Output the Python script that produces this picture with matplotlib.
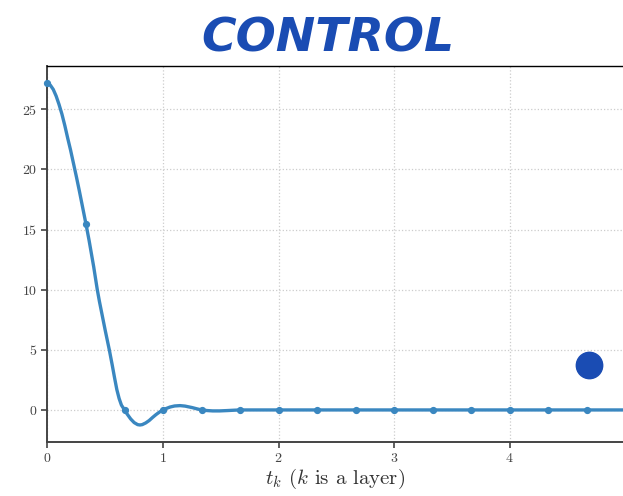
import numpy as np
import matplotlib
matplotlib.use("Agg")
import matplotlib.pyplot as plt

# layer points (t = k/3)
layer_t = [k / 3 for k in range(15)]
layer_y = [27.15, 15.46, 0, 0, 0, 0, 0, 0, 0, 0, 0, 0, 0, 0, 0]

# smooth control curve
curve_t = [0.0, 0.025, 0.05, 0.075, 0.10, 0.125, 0.15, 0.175, 0.20, 0.225,
           0.25, 0.275, 0.30, 0.333, 0.36, 0.40, 0.431, 0.45, 0.50, 0.535,
           0.56, 0.58, 0.60, 0.62, 0.64, 0.667, 0.69, 0.72, 0.75, 0.78,
           0.80, 0.82, 0.85, 0.88, 0.91, 0.94, 0.97, 1.0, 1.03, 1.06,
           1.10, 1.147, 1.19, 1.25, 1.29, 1.333, 1.38, 1.43, 1.49, 1.56,
           1.62, 1.667, 2.0, 5.0]
curve_y = [27.15, 27.0, 26.65, 26.1, 25.4, 24.6, 23.65, 22.6, 21.6, 20.5,
           19.4, 18.25, 17.05, 15.46, 14.1, 11.9, 10.0, 9.0, 6.6, 5.0,
           3.75, 2.7, 1.7, 0.95, 0.4, 0.0, -0.35, -0.75, -1.05, -1.22,
           -1.25, -1.22, -1.08, -0.88, -0.62, -0.38, -0.17, 0.0, 0.13, 0.24,
           0.33, 0.36, 0.32, 0.2, 0.1, 0.0, -0.05, -0.08, -0.08, -0.05,
           -0.02, 0.0, 0.0, 0.0]

# highlighted point
dot_t = [4.69]
dot_y = [3.74]

plt.rcParams["font.family"] = "serif"
plt.rcParams["font.serif"] = ["cmr10", "DejaVu Serif"]
plt.rcParams["mathtext.fontset"] = "cm"
plt.rcParams["axes.formatter.use_mathtext"] = True

fig = plt.figure(figsize=(6.23, 4.96), dpi=100)
ax = fig.add_axes([0.0762, 0.109, 0.9238, 0.758])

line_color = "#3a87c0"
ax.plot(curve_t, curve_y, color=line_color, linewidth=2.4, zorder=3,
        solid_joinstyle="round")
ax.plot(layer_t, layer_y, "o", color=line_color, markersize=4.2, zorder=4,
        clip_on=False)
ax.plot(dot_t, dot_y, "o", color="#1a4cb3", markersize=19, zorder=5)

ax.set_xlim(0, 4.98)
ax.set_ylim(-2.66, 28.6)
ax.set_xticks([0, 1, 2, 3, 4])
ax.set_yticks([0, 5, 10, 15, 20, 25])
ax.grid(True, linestyle=":", color="#cccccc", linewidth=0.9)

for side in ["left", "bottom"]:
    ax.spines[side].set_color("#444444")
    ax.spines[side].set_linewidth(1.4)
ax.spines["top"].set_color("black")
ax.spines["top"].set_linewidth(1.0)
ax.spines["right"].set_visible(False)

ax.tick_params(axis="both", colors="#444444", labelsize=10, length=4, width=1.2)
ax.set_xlabel(r"$t_k$ ($k$ is a layer)", fontsize=15, color="#333333", labelpad=1)

fig.text(0.527, 0.922, "CONTROL", ha="center", va="center", fontsize=34,
         fontweight="bold", fontstyle="italic", color="#1a4cb3",
         family="DejaVu Sans")

fig.savefig("out.png", dpi=100)
